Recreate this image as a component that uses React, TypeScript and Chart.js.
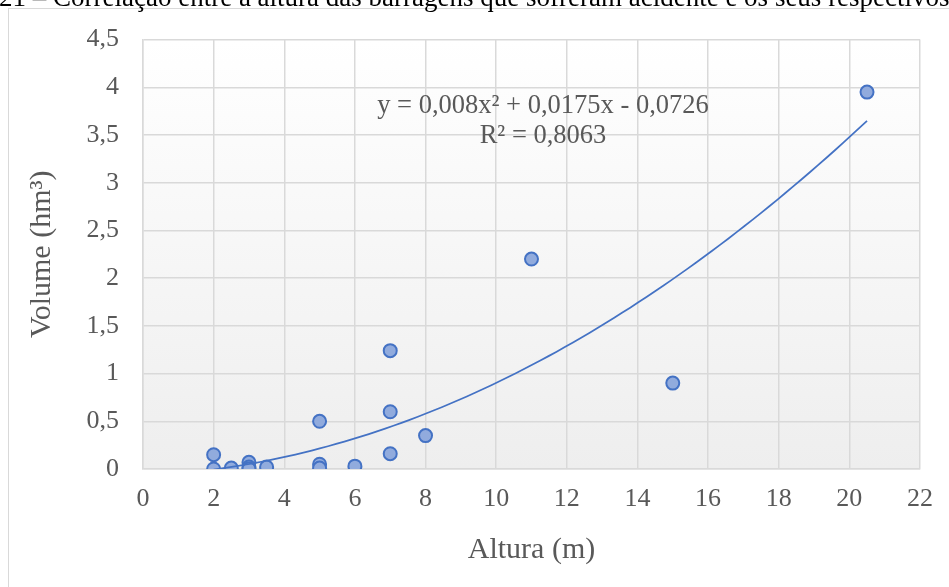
import React, { useEffect, useRef } from "react";
import { Chart, registerables } from "chart.js";

Chart.register(...registerables);

// ---- data ----
const heights = [2, 2, 2.5, 3, 3, 3, 3.5, 5, 5, 5, 6, 7, 7, 7, 8, 11, 15, 20.5];
const volumes = [0.15, 0, 0.01, 0.07, 0.02, 0, 0.02, 0.5, 0.05, 0.01, 0.03, 1.24, 0.6, 0.16, 0.35, 2.2, 0.9, 3.95];
// polynomial trendline shown in the chart: y = a x² + b x + c
const trendCoefficients = [0.008, 0.0175, -0.0726];
const trendRange = [2, 20.5];
const xTicks = [0, 2, 4, 6, 8, 10, 12, 14, 16, 18, 20, 22];
const yTicks = [0, 0.5, 1, 1.5, 2, 2.5, 3, 3.5, 4, 4.5];
const equationLines = ["y = 0,008x² + 0,0175x - 0,0726", "R² = 0,8063"];
const xTitle = "Altura (m)";
const yTitle = "Volume (hm³)";
const captionText = "21 – Correlação entre a altura das barragens que sofreram acidente e os seus respectivos";

const FONT = "'Liberation Serif', 'Times New Roman', serif";

const fmt = (v: number) => String(v).replace(".", ",");

export default function App() {
  const ref = useRef<HTMLCanvasElement | null>(null);

  useEffect(() => {
    const canvas = ref.current;
    if (!canvas) return;

    const points = heights.map((x, i) => ({ x, y: volumes[i] }));
    const [a, b, c] = trendCoefficients;
    const trend: { x: number; y: number }[] = [];
    const steps = 80;
    for (let i = 0; i <= steps; i++) {
      const x = trendRange[0] + ((trendRange[1] - trendRange[0]) * i) / steps;
      trend.push({ x, y: a * x * x + b * x + c });
    }

    const decor = {
      id: "decor",
      beforeDraw(chart: any) {
        const { ctx, chartArea } = chart;
        ctx.save();
        ctx.fillStyle = "#ffffff";
        ctx.fillRect(0, 0, chart.width, chart.height);
        // outer frame
        ctx.strokeStyle = "#d9d9d9";
        ctx.lineWidth = 1;
        ctx.strokeRect(8.5, 8.5, 2000, 2000);
        // caption (cut off at the top)
        ctx.fillStyle = "#000000";
        ctx.font = `27px ${FONT}`;
        ctx.textBaseline = "alphabetic";
        ctx.textAlign = "left";
        ctx.fillText(captionText, -1, 6);
        // plot area gradient
        const g = ctx.createLinearGradient(0, chartArea.top, 0, chartArea.bottom);
        g.addColorStop(0, "#ffffff");
        g.addColorStop(1, "#eeeeee");
        ctx.fillStyle = g;
        ctx.fillRect(chartArea.left, chartArea.top, chartArea.right - chartArea.left, chartArea.bottom - chartArea.top);
        ctx.restore();
      },
      afterDatasetsDraw(chart: any) {
        const { ctx, chartArea } = chart;
        ctx.save();
        ctx.fillStyle = "#595959";
        ctx.font = `26.5px ${FONT}`;
        ctx.textAlign = "center";
        ctx.textBaseline = "alphabetic";
        const cx = chartArea.left + 400;
        ctx.fillText(equationLines[0], cx, chartArea.top + 73);
        ctx.fillText(equationLines[1], cx, chartArea.top + 103);
        ctx.restore();
      },
    };

    const chart = new Chart(canvas, {
      type: "scatter",
      data: {
        datasets: [
          {
            label: "Trend",
            data: trend,
            showLine: true,
            borderColor: "#4472c4",
            borderWidth: 1.75,
            pointRadius: 0,
            fill: false,
            order: 0,
          } as any,
          {
            label: "Volume",
            data: points,
            backgroundColor: "#91abdd",
            borderColor: "#4472c4",
            borderWidth: 2,
            pointRadius: 6.5,
            order: 1,
          },
        ],
      },
      options: {
        animation: false,
        responsive: false,
        maintainAspectRatio: false,
        layout: { padding: { left: 0, top: 38, right: 29, bottom: 0 } },
        plugins: {
          legend: { display: false },
          tooltip: { enabled: false },
        },
        scales: {
          x: {
            type: "linear",
            min: 0,
            max: 22,
            afterBuildTicks: (s: any) => {
              s.ticks = xTicks.map((v) => ({ value: v }));
            },
            afterFit: (s: any) => {
              s.height = 118;
            },
            grid: { color: "#d9d9d9", lineWidth: 1.5, drawTicks: false },
            border: { color: "#d9d9d9", width: 1.5 },
            ticks: {
              padding: 15,
              color: "#595959",
              font: { family: FONT, size: 26 },
              callback: (v: any) => fmt(v),
              maxRotation: 0,
            },
            title: {
              display: true,
              text: xTitle,
              color: "#595959",
              font: { family: FONT, size: 30 },
              padding: { top: 0, bottom: 19 },
            },
          },
          y: {
            type: "linear",
            min: 0,
            max: 4.5,
            afterBuildTicks: (s: any) => {
              s.ticks = yTicks.map((v) => ({ value: v }));
            },
            afterFit: (s: any) => {
              s.width = 143;
            },
            grid: { color: "#d9d9d9", lineWidth: 1.5, drawTicks: false },
            border: { color: "#d9d9d9", width: 1.5 },
            ticks: {
              padding: 24,
              color: "#595959",
              font: { family: FONT, size: 26 },
              callback: (v: any) => fmt(v),
            },
            title: {
              display: true,
              text: yTitle,
              color: "#595959",
              font: { family: FONT, size: 30 },
              padding: { top: 24, bottom: 0 },
            },
          },
        },
      },
      plugins: [decor],
    });

    return () => chart.destroy();
  }, []);

  return (
    <div style={{ position: "fixed", left: 0, top: 0, width: 949, height: 587, overflow: "hidden", background: "#fff" }}>
      <canvas ref={ref} width={949} height={587} style={{ display: "block", width: 949, height: 587 }} />
    </div>
  );
}
